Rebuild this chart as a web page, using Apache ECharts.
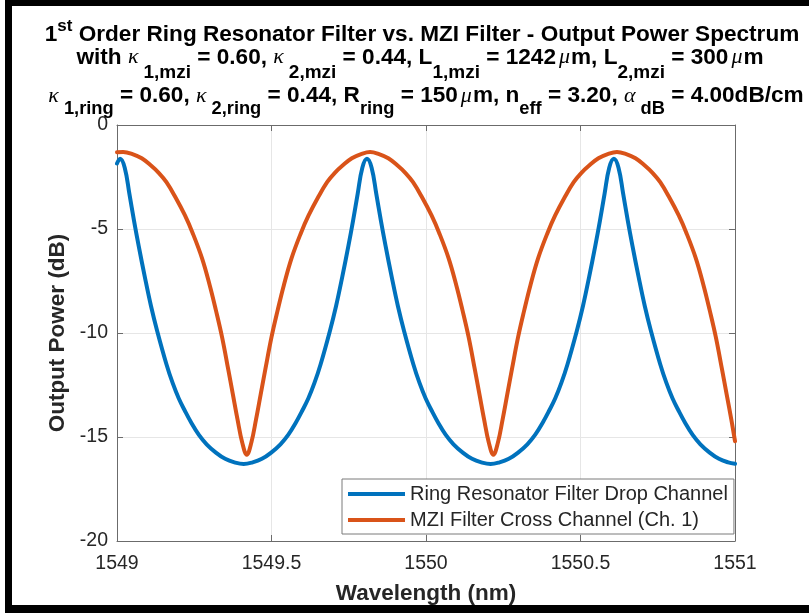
<!DOCTYPE html>
<html><head><meta charset="utf-8">
<script src="https://cdn.jsdelivr.net/npm/echarts@6/dist/echarts.min.js"></script>
<style>html,body{margin:0;padding:0;background:#fff}#c{width:809px;height:613px}</style>
</head><body><div id="c"></div>
<script>
// ---- data (wavelength in nm, power in dB) ----
const ringWavelength = [
  1549.000, 1549.010, 1549.025, 1549.040, 1549.055, 1549.070, 1549.090, 1549.110, 1549.130, 1549.160,
  1549.180, 1549.200, 1549.220, 1549.240, 1549.265, 1549.290, 1549.320, 1549.350, 1549.380, 1549.410,
  1549.439, 1549.469, 1549.499, 1549.529, 1549.554, 1549.579, 1549.599, 1549.619, 1549.639, 1549.659,
  1549.689, 1549.709, 1549.729, 1549.749, 1549.764, 1549.779, 1549.794, 1549.809,
  1549.824, 1549.839, 1549.854, 1549.869, 1549.889, 1549.909, 1549.929, 1549.959, 1549.979, 1549.999,
  1550.019, 1550.039, 1550.064, 1550.089, 1550.119, 1550.149, 1550.179, 1550.209,
  1550.238, 1550.268, 1550.298, 1550.328, 1550.353, 1550.378, 1550.398, 1550.418, 1550.438, 1550.458,
  1550.488, 1550.508, 1550.528, 1550.548, 1550.563, 1550.578, 1550.593, 1550.608,
  1550.623, 1550.638, 1550.653, 1550.668, 1550.688, 1550.708, 1550.728, 1550.758, 1550.778, 1550.798,
  1550.818, 1550.838, 1550.863, 1550.888, 1550.918, 1550.948, 1550.978, 1551.000];
const ringPower = [
  -1.85, -1.62, -2.05, -3.3, -4.6, -5.8, -7.3, -8.7, -9.9, -11.5,
  -12.4, -13.15, -13.75, -14.3, -14.9, -15.35, -15.75, -16.05, -16.22, -16.3,
  -16.22, -16.05, -15.75, -15.35, -14.9, -14.3, -13.75, -13.15, -12.4, -11.5,
  -9.9, -8.7, -7.3, -5.8, -4.6, -3.3, -2.05, -1.62,
  -2.05, -3.3, -4.6, -5.8, -7.3, -8.7, -9.9, -11.5, -12.4, -13.15,
  -13.75, -14.3, -14.9, -15.35, -15.75, -16.05, -16.22, -16.3,
  -16.22, -16.05, -15.75, -15.35, -14.9, -14.3, -13.75, -13.15, -12.4, -11.5,
  -9.9, -8.7, -7.3, -5.8, -4.6, -3.3, -2.05, -1.62,
  -2.05, -3.3, -4.6, -5.8, -7.3, -8.7, -9.9, -11.5, -12.4, -13.15,
  -13.75, -14.3, -14.9, -15.35, -15.75, -16.05, -16.22, -16.29];
const mziWavelength = [
  1549.000, 1549.020, 1549.050, 1549.080, 1549.110, 1549.135, 1549.160, 1549.190, 1549.220, 1549.245,
  1549.275, 1549.300, 1549.320, 1549.340, 1549.360, 1549.375, 1549.390, 1549.405, 1549.420, 1549.435,
  1549.450, 1549.465, 1549.480, 1549.500, 1549.520, 1549.540, 1549.565, 1549.595, 1549.620, 1549.650,
  1549.680, 1549.705, 1549.730, 1549.760, 1549.790, 1549.819, 1549.848, 1549.878, 1549.908, 1549.933,
  1549.958, 1549.988, 1550.018, 1550.043, 1550.073, 1550.098, 1550.118, 1550.138, 1550.158, 1550.173,
  1550.188, 1550.203, 1550.218, 1550.233, 1550.248, 1550.263, 1550.278, 1550.298, 1550.318, 1550.338,
  1550.363, 1550.393, 1550.418, 1550.448, 1550.478, 1550.503, 1550.528, 1550.558, 1550.588, 1550.618,
  1550.648, 1550.678, 1550.708, 1550.733, 1550.758, 1550.788, 1550.818, 1550.843, 1550.873, 1550.898,
  1550.918, 1550.938, 1550.958, 1550.973, 1550.988, 1551.000];
const mziPower = [
  -1.31, -1.3, -1.4, -1.6, -1.95, -2.3, -2.75, -3.5, -4.35, -5.2,
  -6.4, -7.7, -8.9, -10.2, -11.75, -12.95, -14.15, -15.25, -15.85, -15.25,
  -14.15, -12.95, -11.75, -10.2, -8.9, -7.7, -6.4, -5.2, -4.35, -3.5,
  -2.75, -2.3, -1.95, -1.6, -1.4, -1.3, -1.4, -1.6, -1.95, -2.3,
  -2.75, -3.5, -4.35, -5.2, -6.4, -7.7, -8.9, -10.2, -11.75, -12.95,
  -14.15, -15.25, -15.85, -15.25, -14.15, -12.95, -11.75, -10.2, -8.9, -7.7,
  -6.4, -5.2, -4.35, -3.5, -2.75, -2.3, -1.95, -1.6, -1.4, -1.3,
  -1.4, -1.6, -1.95, -2.3, -2.75, -3.5, -4.35, -5.2, -6.4, -7.7,
  -8.9, -10.2, -11.75, -12.95, -14.15, -15.2];
const seriesNames = ['Ring Resonator Filter Drop Channel', 'MZI Filter Cross Channel (Ch. 1)'];
const xTickValues = [1549, 1549.5, 1550, 1550.5, 1551];
const xTickLabels = ['1549', '1549.5', '1550', '1550.5', '1551'];
const yTickValues = [0, -5, -10, -15, -20];
const yTickLabels = ['0', '-5', '-10', '-15', '-20'];
const xAxisTitle = 'Wavelength (nm)';
const yAxisTitle = 'Output Power (dB)';
const titleLine1 = '{n|1}{p|st}{n| Order Ring Resonator Filter vs. MZI Filter - Output Power Spectrum}';
const titleLine2 = '{n|with }{g|\u03ba}{s|1,mzi}{n| = 0.60, }{g|\u03ba}{s|2,mzi}{n| = 0.44, L}{s|1,mzi}{n| = 1242}{u|\u03bc}{n|m, L}{s|2,mzi}{n| = 300}{u|\u03bc}{n|m}';
const titleLine3 = '{g|\u03ba}{s|1,ring}{n| = 0.60, }{g|\u03ba}{s|2,ring}{n| = 0.44, R}{s|ring}{n| = 150}{u|\u03bc}{n|m, n}{s|eff}{n| = 3.20, }{g|\u03b1}{s|dB}{n| = 4.00dB/cm}';

// ---- styling ----
const FONT = '"Liberation Sans", Arial, Helvetica, sans-serif';
const SERIF = '"Liberation Serif", serif';
const AX = '#6b6b6b';
const TXT = '#262626';
const BLUE = '#0072BD';
const ORANGE = '#D95319';

function zip(a, b) { return a.map((v, i) => [v, b[i]]); }
function labelFor(v, vals, labs) {
  for (let i = 0; i < vals.length; i++) if (Math.abs(vals[i] - v) < 1e-6) return labs[i];
  return '';
}
function rich(H, sub) {
  return {
    n: { fontSize: 22.6, fontWeight: 'bold', fontFamily: FONT, lineHeight: H, verticalAlign: 'middle', fill: '#000' },
    g: { fontSize: 22, fontStyle: 'italic', fontWeight: 'normal', fontFamily: SERIF, lineHeight: H, verticalAlign: 'middle', fill: '#000', padding: [0, 5, 0, 0] },
    u: { fontSize: 22, fontStyle: 'italic', fontWeight: 'normal', fontFamily: SERIF, lineHeight: H, verticalAlign: 'middle', fill: '#000', padding: [0, 1, 0, 3] },
    s: { fontSize: sub, fontWeight: 'bold', fontFamily: FONT, lineHeight: 18, verticalAlign: 'bottom', fill: '#000' },
    p: { fontSize: 17, fontWeight: 'bold', fontFamily: FONT, lineHeight: 17, verticalAlign: 'top', fill: '#000' }
  };
}
function titleText(text, x, y, H, sub) {
  return {
    type: 'text', x: x, y: y, z: 10, silent: true,
    style: {
      text: text, align: 'center', textAlign: 'center', verticalAlign: 'middle', textVerticalAlign: 'middle',
      fontSize: 22.6, fontWeight: 'bold', fontFamily: FONT, fill: '#000', rich: rich(H, sub)
    }
  };
}

const chart = echarts.init(document.getElementById('c'), null, { renderer: 'canvas' });
const axisCommon = {
  axisLine: { show: true, onZero: false, lineStyle: { color: AX, width: 1 } },
  axisTick: { show: true, inside: true, length: 6, lineStyle: { color: AX, width: 1 } }
};
chart.setOption({
  animation: false,
  backgroundColor: '#fff',
  grid: { left: 117, top: 125, width: 618, height: 416, containLabel: false },
  xAxis: [
    Object.assign({
      type: 'value', min: 1549, max: 1551, interval: 0.5, position: 'bottom',
      name: xAxisTitle, nameLocation: 'middle', nameGap: 41,
      nameTextStyle: { fontFamily: FONT, fontSize: 22.5, fontWeight: 'bold', color: TXT },
      axisLabel: { show: true, margin: 13, fontFamily: FONT, fontSize: 19.5, color: TXT,
        formatter: v => labelFor(v, xTickValues, xTickLabels) },
      splitLine: { show: true, lineStyle: { color: '#e6e6e6', width: 1 } }
    }, axisCommon),
    Object.assign({
      type: 'value', min: 1549, max: 1551, interval: 0.5, position: 'top',
      axisLabel: { show: false }, splitLine: { show: false }
    }, axisCommon)
  ],
  yAxis: [
    Object.assign({
      type: 'value', min: -20, max: 0, interval: 5, position: 'left',
      name: yAxisTitle, nameLocation: 'middle', nameGap: 46,
      nameTextStyle: { fontFamily: FONT, fontSize: 22.5, fontWeight: 'bold', color: TXT },
      axisLabel: { show: true, margin: 9, fontFamily: FONT, fontSize: 19.5, color: TXT,
        formatter: v => labelFor(v, yTickValues, yTickLabels) },
      splitLine: { show: true, lineStyle: { color: '#e6e6e6', width: 1 } }
    }, axisCommon),
    Object.assign({
      type: 'value', min: -20, max: 0, interval: 5, position: 'right',
      axisLabel: { show: false }, splitLine: { show: false }
    }, axisCommon)
  ],
  legend: {
    data: seriesNames, orient: 'vertical', left: 342, top: 479,
    padding: [5, 6, 4, 6], itemGap: 6, itemWidth: 57, itemHeight: 4, icon: 'rect',
    selectedMode: false, backgroundColor: '#fff', borderColor: '#7a7a7a', borderWidth: 1, borderRadius: 0,
    textStyle: { fontFamily: FONT, fontSize: 20, lineHeight: 20, color: TXT }, z: 20
  },
  series: [
    { name: seriesNames[1], type: 'line', xAxisIndex: 0, yAxisIndex: 0, data: zip(mziWavelength, mziPower),
      showSymbol: false, symbol: 'none', smooth: 0.4, clip: false, silent: true, z: 2,
      lineStyle: { color: ORANGE, width: 4, cap: 'round', join: 'round' }, itemStyle: { color: ORANGE } },
    { name: seriesNames[0], type: 'line', xAxisIndex: 0, yAxisIndex: 0, data: zip(ringWavelength, ringPower),
      showSymbol: false, symbol: 'none', smooth: 0.4, clip: false, silent: true, z: 3,
      lineStyle: { color: BLUE, width: 4, cap: 'round', join: 'round' }, itemStyle: { color: BLUE } }
  ],
  graphic: [
    { type: 'rect', silent: true, z: 30, shape: { x: 5, y: 0, width: 7, height: 613 }, style: { fill: '#000' } },
    { type: 'rect', silent: true, z: 30, shape: { x: 5, y: 0, width: 804, height: 6 }, style: { fill: '#000' } },
    { type: 'rect', silent: true, z: 30, shape: { x: 5, y: 605, width: 804, height: 8 }, style: { fill: '#000' } },
    titleText(titleLine1, 422, 34.5, 34, 18),
    titleText(titleLine2, 420, 57.5, 50, 19),
    titleText(titleLine3, 426, 96.2, 44, 18.3)
  ]
});
</script>
</body></html>
